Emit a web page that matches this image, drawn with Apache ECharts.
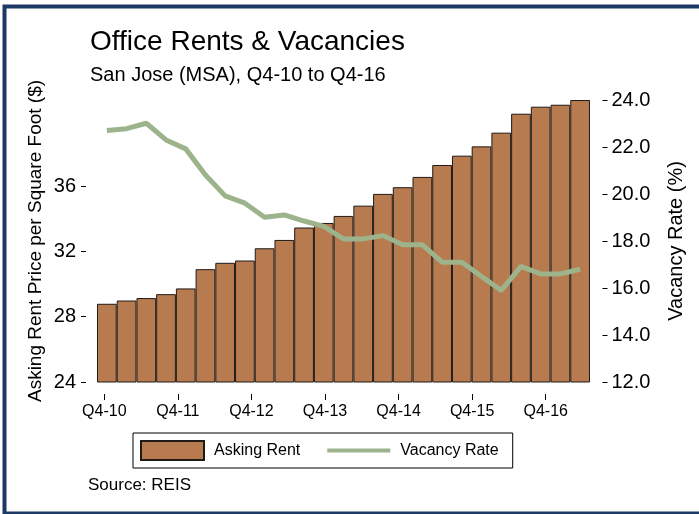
<!DOCTYPE html>
<html>
<head>
<meta charset="utf-8">
<script src="https://cdn.jsdelivr.net/npm/echarts@6/dist/echarts.min.js"></script>
<style>
html,body{margin:0;padding:0;background:#fff;}
#chart{width:699px;height:514px;}
</style>
</head>
<body>
<div id="chart"></div>
<script>
// ---- data ----
var quarters = ['Q4-10','Q1-11','Q2-11','Q3-11','Q4-11','Q1-12','Q2-12','Q3-12','Q4-12',
  'Q1-13','Q2-13','Q3-13','Q4-13','Q1-14','Q2-14','Q3-14','Q4-14','Q1-15','Q2-15','Q3-15',
  'Q4-15','Q1-16','Q2-16','Q3-16','Q4-16'];
var askingRent = [28.79, 28.99, 29.14, 29.38, 29.73, 30.91, 31.30, 31.44, 32.19, 32.70,
  33.46, 33.74, 34.17, 34.80, 35.52, 35.93, 36.56, 37.29, 37.86, 38.43,
  39.27, 40.43, 40.86, 40.98, 41.27];
var vacancyRate = [22.70, 22.78, 23.01, 22.30, 21.92, 20.81, 19.92, 19.61, 19.01, 19.11,
  18.85, 18.62, 18.09, 18.09, 18.23, 17.84, 17.84, 17.10, 17.10, 16.49,
  15.90, 16.92, 16.60, 16.60, 16.80];
var xTickLabels = ['Q4-10','Q4-11','Q4-12','Q4-13','Q4-14','Q4-15','Q4-16'];
var leftTickMin = 24, leftTickMax = 36, leftTickStep = 4;
var rightMin = 12, rightMax = 24, rightStep = 2;

var FONT = '"Liberation Sans", Arial, Helvetica, sans-serif';
var chart = echarts.init(document.getElementById('chart'), null, {renderer:'canvas'});

// plot area
var PL = 97, PT = 100, PW = 493, PH = 282;
var LEFT_GAP = 11, BOTTOM_GAP = 12;
// left labelled ticks cover 24..36 of the 24..max(rent) scale
var rentMax = Math.max.apply(null, askingRent);
var tickGridTop = PT + PH * (1 - (leftTickMax - leftTickMin) / (rentMax - leftTickMin));

var option = {
  animation: false,
  backgroundColor: '#ffffff',
  textStyle: {fontFamily: FONT, color: '#000'},
  grid: [
    {left: PL, top: PT, width: PW, height: PH},
    {left: 104.3, top: PT, width: 441.4, height: PH + BOTTOM_GAP},
    {left: PL - LEFT_GAP, top: tickGridTop, width: PW, height: PT + PH - tickGridTop}
  ],
  graphic: [
    {type:'rect', shape:{x:4.5, y:6.5, width:710, height:507}, style:{fill:'none', stroke:'#1d3a66', lineWidth:4}, silent:true},
    {type:'text', x:90, y:42, style:{text:'Office Rents & Vacancies', font:'28px ' + FONT, fill:'#000', verticalAlign:'middle'}},
    {type:'text', x:90, y:75, style:{text:'San Jose (MSA), Q4-10 to Q4-16', font:'20px ' + FONT, fill:'#000', verticalAlign:'middle'}},
    {type:'text', x:88, y:485, style:{text:'Source: REIS', font:'17px ' + FONT, fill:'#000', verticalAlign:'middle'}}
  ],
  legend: {
    left: 133, top: 433,
    padding: [7, 14, 7, 7],
    borderColor: '#000', borderWidth: 1,
    itemWidth: 63, itemHeight: 19, itemGap: 27,
    textStyle: {fontSize: 16, fontFamily: FONT, color:'#000', padding:[0,0,0,5]},
    data: [
      {name:'Asking Rent', icon:'rect'},
      {name:'Vacancy Rate', icon:'path://M0,0 L63,0 L63,4 L0,4 Z'}
    ]
  },
  xAxis: [
    {type:'category', gridIndex:0, data: quarters, boundaryGap: true,
     axisLine:{show:false}, axisTick:{show:false}, axisLabel:{show:false}, splitLine:{show:false}},
    {type:'value', gridIndex:1, position:'bottom', min:0, max:xTickLabels.length - 1, interval:1,
     axisLine:{show:false, onZero:false},
     axisTick:{show:true, length:6, inside:false, lineStyle:{color:'#000', width:1}},
     axisLabel:{show:true, margin:10, fontSize:16, fontFamily:FONT, color:'#000',
       formatter: function(v){ return xTickLabels[Math.round(v)] || ''; }},
     splitLine:{show:false}},
    {type:'value', gridIndex:2, show:false, min:0, max:1}
  ],
  yAxis: [
    {type:'value', gridIndex:0, position:'left', offset:LEFT_GAP, min:leftTickMin, max:function(v){return v.max;},
     name:'Asking Rent Price per Square Foot ($)', nameLocation:'middle', nameRotate:90, nameGap:41,
     nameTextStyle:{fontSize:19, fontFamily:FONT, color:'#000'},
     axisLine:{show:false}, axisTick:{show:false}, axisLabel:{show:false}, splitLine:{show:false}},
    {type:'value', gridIndex:0, position:'right', offset:12.5, min:rightMin, max:rightMax, interval:rightStep,
     name:'Vacancy Rate (%)', nameLocation:'middle', nameRotate:90, nameGap:64,
     nameTextStyle:{fontSize:20, fontFamily:FONT, color:'#000'},
     axisLine:{show:false},
     axisTick:{show:true, length:5, lineStyle:{color:'#000'}},
     axisLabel:{margin:9, fontSize:20, fontFamily:FONT, color:'#000',
       formatter:function(v){return v.toFixed(1);}},
     splitLine:{show:false}},
    {type:'value', gridIndex:1, show:false, min:0, max:1},
    {type:'value', gridIndex:2, position:'left', min:leftTickMin, max:leftTickMax, interval:leftTickStep,
     axisLine:{show:false, onZero:false},
     axisTick:{show:true, length:5, lineStyle:{color:'#000'}},
     axisLabel:{margin:10, fontSize:20, fontFamily:FONT, color:'#000'},
     splitLine:{show:false}}
  ],
  series: [
    {name:'Asking Rent', type:'bar', xAxisIndex:0, yAxisIndex:0, data: askingRent,
     barCategoryGap:'0%', z:2,
     itemStyle:{color:'#b87a4f', borderColor:'#1e1a16', borderWidth:1}},
    {name:'Vacancy Rate', type:'line', xAxisIndex:0, yAxisIndex:1, data: vacancyRate,
     symbol:'none', z:3,
     itemStyle:{color:'#9db38b'},
     lineStyle:{color:'#9db38b', width:5}}
  ]
};
chart.setOption(option);
</script>
</body>
</html>
